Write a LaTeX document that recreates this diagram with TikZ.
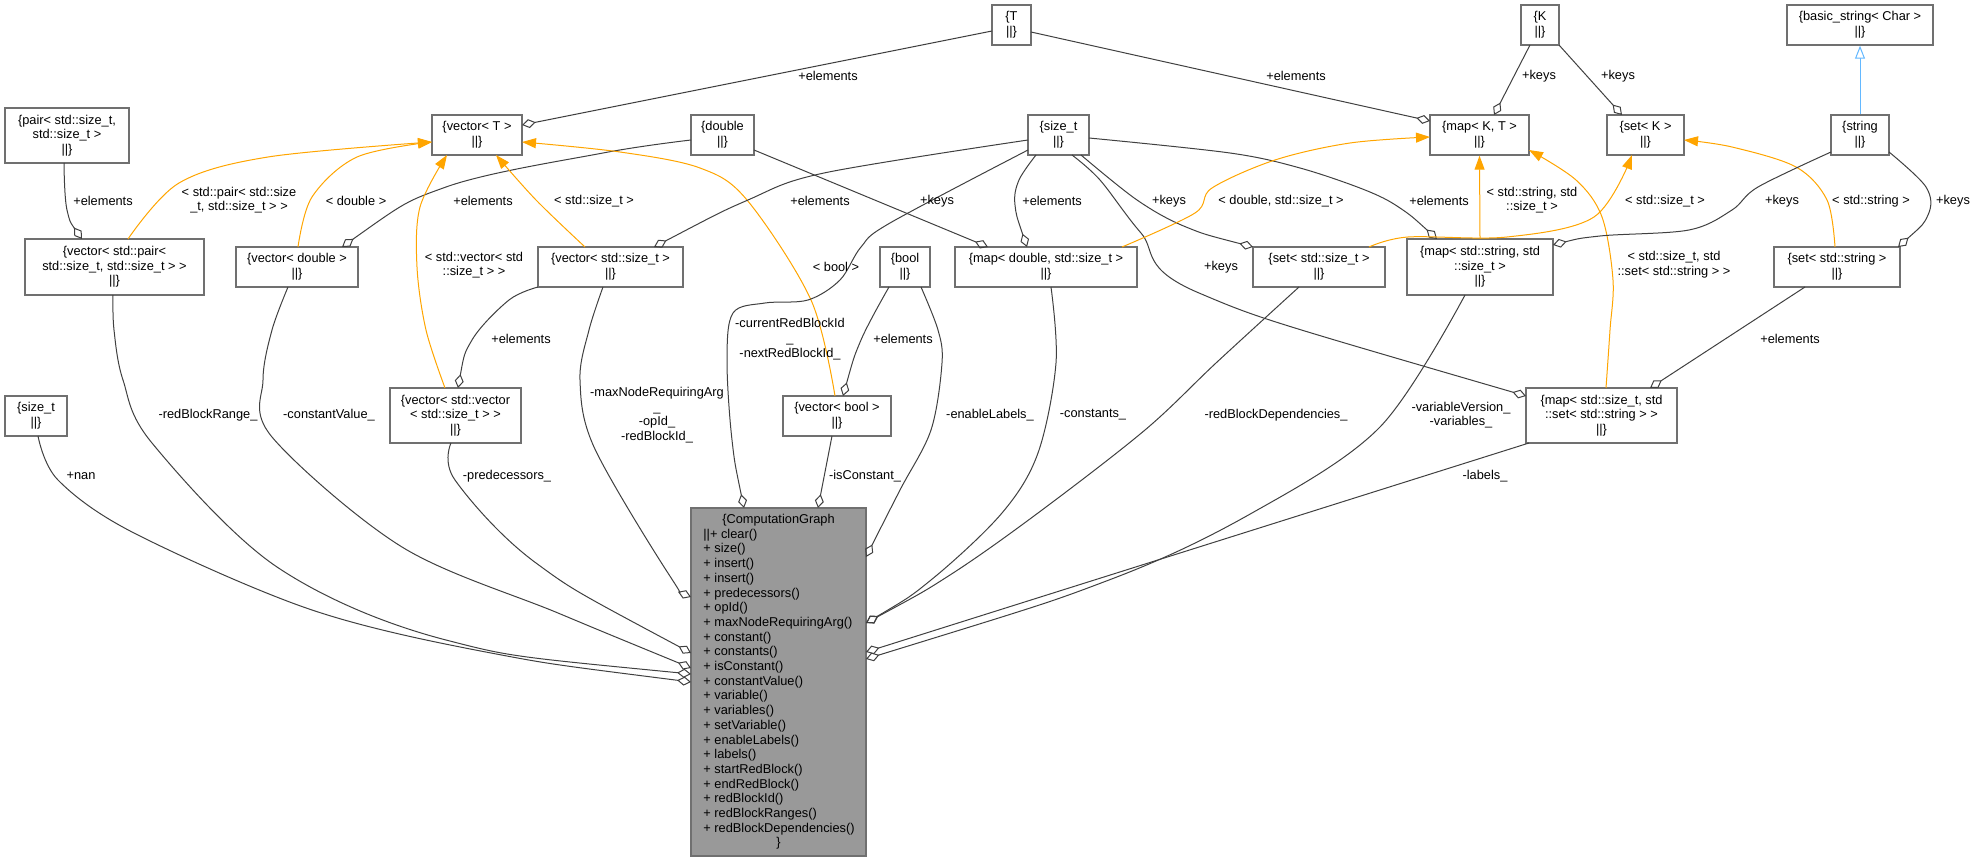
\documentclass[tikz,border=0pt]{standalone}
\usepackage{fontspec}
\setmainfont{Liberation Sans}
\usetikzlibrary{arrows.meta,calc}
\definecolor{edgec}{HTML}{404040}
\definecolor{org}{HTML}{FFA500}
\definecolor{inh}{HTML}{63B8FF}
\definecolor{bord}{HTML}{707070}
\definecolor{cgfill}{HTML}{999999}
\newcommand{\fnt}{\fontsize{6.4pt}{7.35pt}\selectfont}
\tikzset{
  cls/.style 2 args={draw=bord, line width=0.7pt, fill=white, align=center, inner sep=0pt,
    font=\fnt, minimum width=#1, minimum height=#2},
  lbl/.style={align=center, inner sep=0pt, font=\fnt},
  cgt/.style={inner sep=0pt, font=\fnt},
  agg/.style={draw=edgec, line width=0.5pt, arrows={Diamond[open,length=7pt,width=4.5pt]-}},
  tmpl/.style={draw=org, line width=0.5pt, arrows={-Triangle[length=7pt,width=5pt]}},
  inher/.style={draw=inh, line width=0.5pt, arrows={-Triangle[open,length=6.5pt,width=5pt,fill=white]}},
  sm/.style={smooth, tension=0.55}
}
\begin{document}
\begin{tikzpicture}[x=0.5pt,y=-0.5pt]
\useasboundingbox (0,0) rectangle (1977,861);
% ---- nodes ----
\node[cls={19.5pt}{20pt}] (T) at (1011.5,25) {\{T\\||\}};
\node[cls={19pt}{20pt}] (K) at (1540,25) {\{K\\||\}};
\node[cls={73pt}{20pt}] (bstr) at (1860,25) {\{basic\_string< Char >\\||\}};
\node[cls={62pt}{27.5pt}] (pair) at (67,135.5) {\{pair< std::size\_t,\\std::size\_t >\\||\}};
\node[cls={45pt}{20pt}] (vT) at (477,135) {\{vector< T >\\||\}};
\node[cls={31.5pt}{20pt}] (dbl) at (722.5,135) {\{double\\||\}};
\node[cls={30.5pt}{20pt}] (szt) at (1058.5,135) {\{size\_t\\||\}};
\node[cls={49.5pt}{20pt}] (mapKT) at (1479.5,135) {\{map< K, T >\\||\}};
\node[cls={38.5pt}{20pt}] (setK) at (1645.5,135) {\{set< K >\\||\}};
\node[cls={29pt}{20pt}] (str) at (1860,135) {\{string\\||\}};
\node[cls={89.5pt}{28pt}] (vpair) at (114.5,267) {\{vector< std::pair<\\std::size\_t, std::size\_t > >\\||\}};
\node[cls={61pt}{20pt}] (vdbl) at (297,267) {\{vector< double >\\||\}};
\node[cls={72.5pt}{20pt}] (vszt) at (610.5,267) {\{vector< std::size\_t >\\||\}};
\node[cls={25pt}{20pt}] (bool) at (905,267) {\{bool\\||\}};
\node[cls={91pt}{20pt}] (mapDS) at (1046,267) {\{map< double, std::size\_t >\\||\}};
\node[cls={66pt}{20pt}] (setS) at (1319,267) {\{set< std::size\_t >\\||\}};
\node[cls={73pt}{28pt}] (mapSS) at (1480,267) {\{map< std::string, std\\::size\_t >\\||\}};
\node[cls={63pt}{20pt}] (setStr) at (1837,267) {\{set< std::string >\\||\}};
\node[cls={31pt}{20pt}] (sztL) at (36,416) {\{size\_t\\||\}};
\node[cls={65.5pt}{27.5pt}] (vvec) at (455.5,415.5) {\{vector< std::vector\\< std::size\_t > >\\||\}};
\node[cls={54pt}{20pt}] (vbool) at (837,416) {\{vector< bool >\\||\}};
\node[cls={75.5pt}{27.5pt}] (mapSSet) at (1601.5,415.5) {\{map< std::size\_t, std\\::set< std::string > >\\||\}};
\node[cls={87.5pt}{174pt}, fill=cgfill] (cg) at (778.5,682) {};
\node[cgt, anchor=base] (cgtitle) at (778.5,523.5) {\{ComputationGraph};
\foreach \t [count=\i] in {{||+ clear()},{+ size()},{+ insert()},{+ insert()},{+ predecessors()},{+ opId()},{+ maxNodeRequiringArg()},{+ constant()},{+ constants()},{+ isConstant()},{+ constantValue()},{+ variable()},{+ variables()},{+ setVariable()},{+ enableLabels()},{+ labels()},{+ startRedBlock()},{+ endRedBlock()},{+ redBlockId()},{+ redBlockRanges()},{+ redBlockDependencies()}}
  \node[cgt, anchor=base west] (cgl\i) at (703,{523.5+14.7*\i}) {\t};
\node[cgt, anchor=base] (cgend) at (778.5,846.9) {\}};
% ---- edges ----
\draw[agg] ($(vT)+(45,-10)$) -- ($(T)+(-19.5,6)$);
\draw[agg] ($(mapKT)+(-49.5,-14)$) -- ($(T)+(19.5,7)$);
\draw[agg] ($(mapKT)+(14.5,-20)$) -- ($(K)+(-10,20)$);
\draw[agg] ($(setK)+(-23.5,-20)$) -- ($(K)+(19,20)$);
\draw[inher] (str.north) -- (bstr.south);
\draw[agg] plot[sm] coordinates {($(vpair)+(-32.5,-28)$) (67,210) ($(pair)+(-3,27.5)$)};
\draw[tmpl] plot[sm] coordinates {($(vpair)+(13.5,-28)$) (179,183) (268,157) ($(vT)+(-45,7)$)};
\draw[tmpl] plot[sm] coordinates {($(vdbl)+(1,-20)$) (312,197) (357,157) ($(vT)+(-45,7)$)};
\draw[agg] plot[sm] coordinates {($(vdbl)+(45,-20)$) (446,187) (603,153) ($(dbl)+(-31.5,5)$)};
\draw[tmpl] plot[sm] coordinates {($(vszt)+(-25.5,-20)$) (536,200) ($(vT)+(19,20)$)};
\draw[tmpl] plot[sm] coordinates {($(vvec)+(-10.5,-27.5)$) (426,330) (417,267) (420,207) ($(vT)+(-30,20)$)};
\draw[tmpl] plot[sm] coordinates {($(vbool)+(-2,-20)$) (811,300) (747,200) (700,168) (620,152) ($(vT)+(45,7)$)};
\draw[agg] plot[sm] coordinates {($(vszt)+(43.5,-20)$) (748,200) (824,173) ($(szt)+(-30.5,5)$)};
\draw[agg] plot[sm] coordinates {($(vvec)+(2.5,-27.5)$) (472,340) (509,300) ($(vszt)+(-72.5,20)$)};
\draw[agg] plot[sm] coordinates {($(cg)+(-87.5,-85)$) (666,570) (594,447) (580,380) (589,330) ($(vszt)+(-7.5,20)$)};
\draw[agg] plot[sm] coordinates {($(cg)+(-87.5,-8)$) (446,640) (277,567) (152,443) (123,380) (114,330) ($(vpair)+(-1.5,28)$)};
\draw[agg] plot[sm] coordinates {($(cg)+(-87.5,-14)$) (558,613) (402,547) (272,437) (263,380) (272,330) ($(vdbl)+(-9,20)$)};
\draw[agg] plot[sm] coordinates {($(cg)+(-87.5,-29)$) (536,563) (455,480) ($(vvec)+(-4.5,27.5)$)};
\draw[agg] plot[sm] coordinates {($(cg)+(-87.5,0)$) (491,653) (312,610) (134,533) (58,480) ($(sztL)+(2,20)$)};
\draw[agg] plot[sm] coordinates {($(cg)+(-34.5,-174)$) (732,440) (727,360) (733,313) (765,303) (808,300) (840,280) (861,247) (890,223) ($(szt)+(-30.5,15)$)};
\draw[agg] ($(cg)+(39.5,-174)$) -- ($(vbool)+(-5,20)$);
\draw[agg] plot[sm] coordinates {($(vbool)+(6,-20)$) (861,340) ($(bool)+(-16,20)$)};
\draw[agg] plot[sm] coordinates {($(cg)+(87.5,-125)$) (900,490) (931,430) (942,363) (938,330) ($(bool)+(16,20)$)};
\draw[agg] ($(mapDS)+(-58,-20)$) -- ($(dbl)+(31.5,15)$);
\draw[agg] plot[sm] coordinates {($(mapDS)+(-19,-20)$) (1015,205) (1019,180) ($(szt)+(-22.5,20)$)};
\draw[agg] plot[sm] coordinates {($(setS)+(-66,-20)$) (1186,227) (1137,200) ($(szt)+(22.5,20)$)};
\draw[agg] plot[sm] coordinates {($(mapSSet)+(-75.5,-19.5)$) (1199,293) (1141,233) (1100,180) ($(szt)+(13.5,20)$)};
\draw[agg] plot[sm] coordinates {($(mapSS)+(-43,-28)$) (1400,208) (1365,190) (1300,168) (1230,153) ($(szt)+(30.5,3)$)};
\draw[agg] plot[sm] coordinates {($(cg)+(87.5,-59)$) (931,580) (1002,513) (1038,453) (1056,363) ($(mapDS)+(5,20)$)};
\draw[agg] plot[sm] coordinates {($(cg)+(87.5,-59)$) (950,575) (1038,513) (1145,430) (1216,363) ($(setS)+(-20,20)$)};
\draw[agg] plot[sm] coordinates {($(cg)+(87.5,-23)$) (1109,580) (1252,513) (1380,427) ($(mapSS)+(-15,28)$)};
\draw[agg] ($(cg)+(87.5,-30)$) -- ($(mapSSet)+(-72.5,27.5)$);
\draw[agg] ($(mapSSet)+(48.5,-27.5)$) -- ($(setStr)+(-32,20)$);
\draw[tmpl] plot[sm] coordinates {($(mapDS)+(76,-20)$) (1195,213) (1212,188) (1275,160) (1350,143) ($(mapKT)+(-49.5,2)$)};
\draw[tmpl] (mapSS.north) -- (mapKT.south);
\draw[tmpl] plot[sm] coordinates {($(mapSSet)+(4.5,-27.5)$) (1610,330) (1613,280) (1602,217) (1576,180) ($(mapKT)+(49.5,15)$)};
\draw[tmpl] plot[sm] coordinates {($(setS)+(50,-20)$) (1408,237) (1507,237) (1594,217) ($(setK)+(-13.5,20)$)};
\draw[tmpl] plot[sm] coordinates {($(setStr)+(-2,-20)$) (1827,200) (1796,167) (1732,147) ($(setK)+(38.5,5)$)};
\draw[agg] plot[sm] coordinates {($(mapSS)+(73,-22)$) (1600,236) (1689,230) (1732,210) (1758,187) ($(str)+(-29,17)$)};
\draw[agg] plot[sm] coordinates {($(setStr)+(61,-20)$) (1928,215) (1926,187) ($(str)+(29,17)$)};
% ---- labels ----
\node[lbl] (l1) at (828,76) {+elements};
\node[lbl] (l2) at (1296,76) {+elements};
\node[lbl] (l3) at (1539,76) {+keys};
\node[lbl] (l4) at (1618,76) {+keys};
\node[lbl] (l5) at (103,201) {+elements};
\node[lbl] (l6) at (239,200) {< std::pair< std::size\\\_t, std::size\_t > >};
\node[lbl] (l7) at (356,201) {< double >};
\node[lbl] (l8) at (483,201) {+elements};
\node[lbl] (l9) at (594,201) {< std::size\_t >};
\node[lbl] (l10) at (820,201) {+elements};
\node[lbl] (l11) at (937,201) {+keys};
\node[lbl] (l12) at (1052,201) {+elements};
\node[lbl] (l13) at (1169,201) {+keys};
\node[lbl] (l14) at (1281,201) {< double, std::size\_t >};
\node[lbl] (l15) at (1439,201) {+elements};
\node[lbl] (l16) at (1532,200) {< std::string, std\\::size\_t >};
\node[lbl] (l17) at (1665,201) {< std::size\_t >};
\node[lbl] (l18) at (1782,201) {+keys};
\node[lbl] (l19) at (1871,201) {< std::string >};
\node[lbl] (l20) at (1953,201) {+keys};
\node[lbl] (l21) at (474,265) {< std::vector< std\\::size\_t > >};
\node[lbl] (l22) at (836,267) {< bool >};
\node[lbl] (l23) at (1221,267) {+keys};
\node[lbl] (l24) at (1674,265) {< std::size\_t, std\\::set< std::string > >};
\node[lbl] (l25) at (790,339) {-currentRedBlockId\\\_\\-nextRedBlockId\_};
\node[lbl] (l26) at (657,415) {-maxNodeRequiringArg\\\_\\-opId\_\\-redBlockId\_};
\node[lbl] (l27) at (521,339) {+elements};
\node[lbl] (l28) at (903,339) {+elements};
\node[lbl] (l29) at (1790,339) {+elements};
\node[lbl] (l30) at (208,415) {-redBlockRange\_};
\node[lbl] (l31) at (329,415) {-constantValue\_};
\node[lbl] (l32) at (990,415) {-enableLabels\_};
\node[lbl] (l33) at (1093,415) {-constants\_};
\node[lbl] (l34) at (1276,415) {-redBlockDependencies\_};
\node[lbl] (l35) at (1461,415) {-variableVersion\_\\-variables\_};
\node[lbl] (l36) at (1485,476) {-labels\_};
\node[lbl] (l37) at (81,476) {+nan};
\node[lbl] (l38) at (507,476) {-predecessors\_};
\node[lbl] (l39) at (865,476) {-isConstant\_};
\end{tikzpicture}
\end{document}
